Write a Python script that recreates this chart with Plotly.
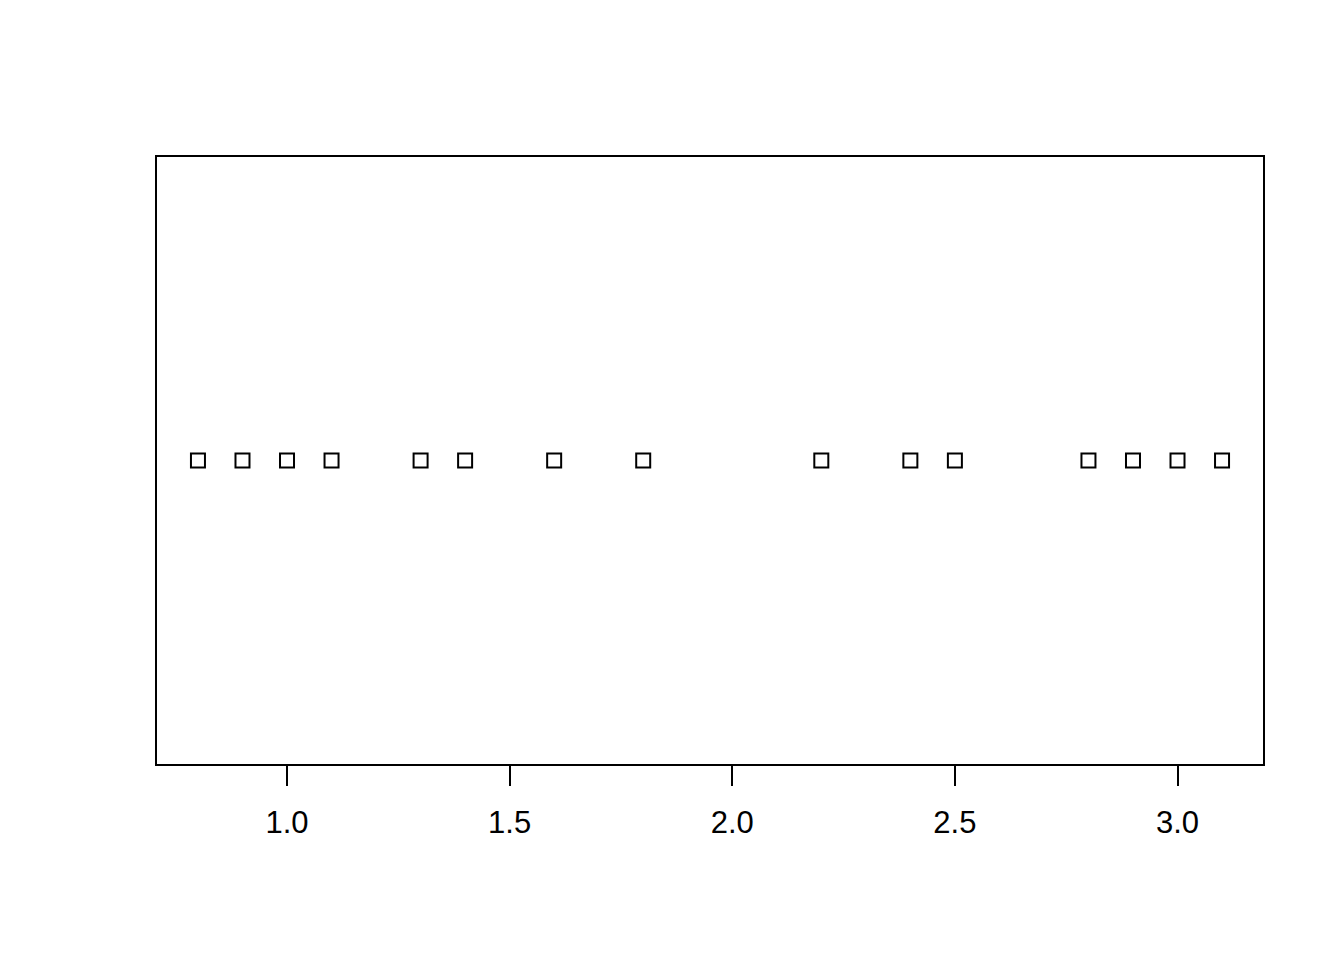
import plotly.graph_objects as go

x_values = [0.8, 0.9, 1.0, 1.1, 1.3, 1.4, 1.6, 1.8, 2.2, 2.4, 2.5, 2.8, 2.9, 3.0, 3.1]
y_values = [1] * len(x_values)
tick_vals = [1.0, 1.5, 2.0, 2.5, 3.0]
tick_text = ["1.0", "1.5", "2.0", "2.5", "3.0"]

fig = go.Figure()
fig.add_trace(go.Scatter(
    x=x_values, y=y_values, mode="markers",
    marker=dict(symbol="square-open", size=14, color="black", line=dict(width=2, color="black")),
    showlegend=False, hoverinfo="x"))

fig.update_layout(
    width=1344, height=960,
    paper_bgcolor="white", plot_bgcolor="white",
    margin=dict(l=149, r=89, t=149, b=204),
    font=dict(family="Liberation Sans, Arial, sans-serif", color="black"),
    xaxis=dict(range=[0.708, 3.192], tickvals=tick_vals, ticktext=tick_text,
               ticks="outside", ticklen=20, tickwidth=2, tickcolor="black",
               showline=True, linecolor="black", linewidth=2, mirror=True,
               showgrid=False, zeroline=False, tickfont=dict(size=31),
               ticklabelstandoff=10),
    yaxis=dict(range=[0.6, 1.4], showticklabels=False, ticks="",
               showline=True, linecolor="black", linewidth=2, mirror=True,
               showgrid=False, zeroline=False),
)

fig.write_html("out.html")
